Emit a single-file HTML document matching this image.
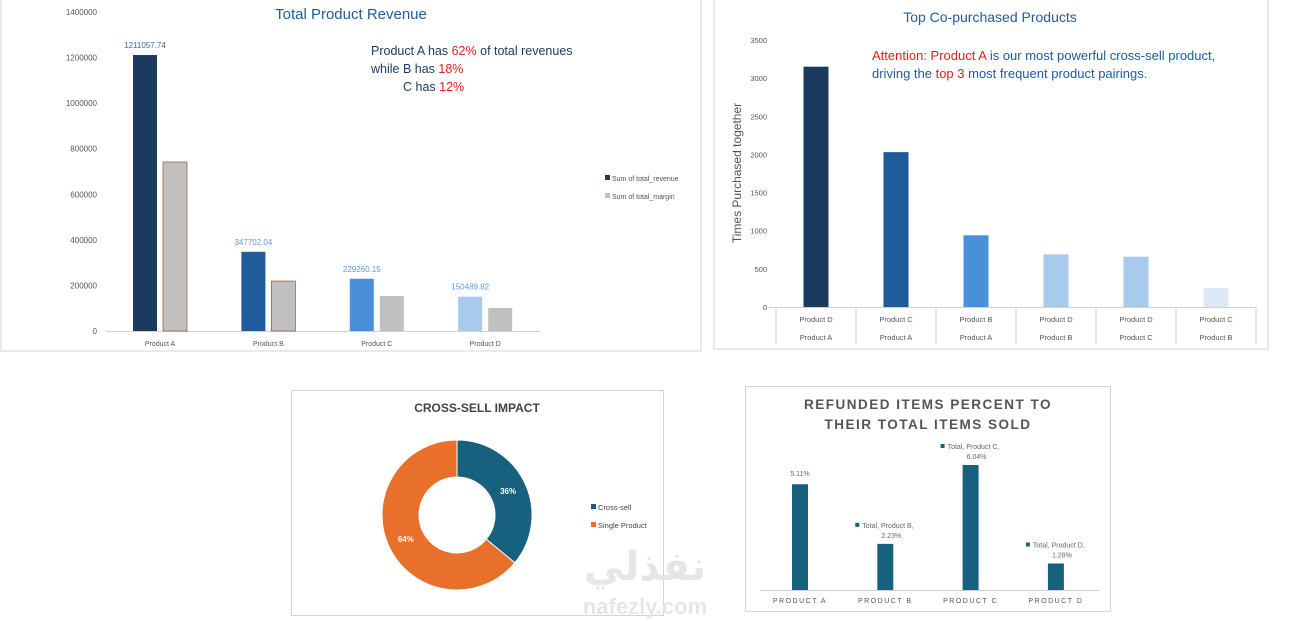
<!DOCTYPE html>
<html><head><meta charset="utf-8"><style>
body{margin:0;width:1294px;height:622px;background:#fff;overflow:hidden;font-family:"Liberation Sans",sans-serif}
svg{position:absolute;left:0;top:0}
</style></head><body>
<svg width="1294" height="622" id="s">
<rect x="1" y="-1" width="700" height="352" fill="none" stroke="#d4d4d4"/>
<rect x="714" y="-1" width="554" height="350" fill="none" stroke="#d4d4d4"/>
<rect x="291.5" y="390.5" width="372" height="225" fill="none" stroke="#d4d4d4"/>
<rect x="745.5" y="386.5" width="365" height="225" fill="none" stroke="#d4d4d4"/>
<text x="351" y="19" text-anchor="middle" font-size="15" fill="#1f5c99">Total Product Revenue</text>
<text x="371" y="55" font-size="12.5" fill="#1b3a5f">Product A has <tspan fill="#e02020">62%</tspan> of total revenues</text>
<text x="371" y="73" font-size="12.5" fill="#1b3a5f">while B has <tspan fill="#e02020">18%</tspan></text>
<text x="403" y="91" font-size="12.5" fill="#1b3a5f">C has <tspan fill="#e02020">12%</tspan></text>
<rect x="605" y="175" width="5" height="5" fill="#1b3a5f"/>
<text x="612" y="181" font-size="7" fill="#555">Sum of total_revenue</text>
<rect x="605" y="193" width="5" height="5" fill="#c0c0c0"/>
<text x="612" y="199" font-size="7" fill="#555">Sum of total_margin</text>
<text x="990" y="22" text-anchor="middle" font-size="14" fill="#1f5c99">Top Co-purchased Products</text>
<text x="872" y="60" font-size="13" fill="#1f5c99"><tspan fill="#e02020">Attention: Product A</tspan> is our most powerful cross-sell product,</text>
<text x="872" y="78" font-size="13" fill="#1f5c99">driving the <tspan fill="#e02020">top 3</tspan> most frequent product pairings.</text>
<text transform="translate(741,173) rotate(-90)" text-anchor="middle" font-size="12" fill="#555">Times Purchased together</text>
<text x="477" y="412" text-anchor="middle" font-size="12" font-weight="bold" fill="#444">CROSS-SELL IMPACT</text>
<rect x="591" y="504" width="5" height="5" fill="#17607e"/>
<text x="598" y="510" font-size="7.5" fill="#444">Cross-sell</text>
<rect x="591" y="522" width="5" height="5" fill="#e8702a"/>
<text x="598" y="528" font-size="7.5" fill="#444">Single Product</text>
<text x="928" y="409" text-anchor="middle" font-size="13.5" font-weight="bold" letter-spacing="1.5" fill="#555">REFUNDED ITEMS PERCENT TO</text>
<text x="928" y="429" text-anchor="middle" font-size="13.5" font-weight="bold" letter-spacing="1.5" fill="#555">THEIR TOTAL ITEMS SOLD</text>
<text x="645" y="580" text-anchor="middle" font-size="40" font-weight="bold" fill="#e6e6e6" font-family="DejaVu Sans,sans-serif">نفذلي</text>
<text x="645" y="614" text-anchor="middle" font-size="22" font-weight="bold" fill="#e6e6e6">nafezly.com</text>
</svg>
<script>
const NS="http://www.w3.org/2000/svg",s=document.getElementById('s');
function mk(t,a,txt){const e=document.createElementNS(NS,t);for(const k in a)e.setAttribute(k,a[k]);if(txt!=null)e.textContent=txt;s.appendChild(e);return e;}
// Chart 1
const revCats=["Product A","Product B","Product C","Product D"];
const revenue=[1211057.74,347702.04,229260.15,150489.82];
const margin=[741700,219000,153600,101000];
const revTicks=[0,200000,400000,600000,800000,1000000,1200000,1400000];
const revColors=["#1b3a5f","#1f5c99","#4a90d9","#a8caec"];
const y1=v=>331-v/1400000*319, x1=i=>160+108.4*i;
revTicks.forEach(t=>{const e=mk('text',{x:97,y:y1(t)+3,'text-anchor':'end','font-size':8,fill:'#555'},t);

});
let ax=mk('line',{x1:106,x2:540,y1:331.5,y2:331.5,stroke:'#d0d0d0'});


revCats.forEach((c,i)=>{const cx=x1(i);
let r=mk('rect',{x:cx-27,y:y1(revenue[i]),width:24,height:331-y1(revenue[i]),fill:revColors[i]});


let m=mk('rect',{x:cx+3,y:y1(margin[i]),width:24,height:331-y1(margin[i]),fill:'#c0c0c0',stroke:i<2?'#a0603a':'none','stroke-width':0.8});


let l=mk('text',{x:cx-15,y:y1(revenue[i])-7,'text-anchor':'middle','font-size':8,fill:i===0?'#3a6a9a':'#5a9ad8'},revenue[i].toFixed(2));


let cl=mk('text',{x:cx,y:346,'text-anchor':'middle','font-size':7,fill:'#555'},c);

});
// Chart 2
const pairTop=["Product D","Product C","Product B","Product D","Product D","Product C"];
const pairBottom=["Product A","Product A","Product A","Product B","Product C","Product B"];
const pairCounts=[3150,2030,940,690,660,250];
const pairTicks=[0,500,1000,1500,2000,2500,3000,3500];
const pairColors=["#1b3a5f","#1f5c99","#4a90d9","#a8caec","#a8caec","#dce8f5"];
const y2=v=>307-v/3500*267, x2=i=>776+80*i+40;
pairTicks.forEach(t=>{const e=mk('text',{x:767,y:y2(t)+3,'text-anchor':'end','font-size':7.5,fill:'#555'},t);

});
let ax2=mk('line',{x1:769,x2:1256,y1:307.5,y2:307.5,stroke:'#d0d0d0'});


for(let i=0;i<=6;i++){let v=mk('line',{x1:776+80*i,x2:776+80*i,y1:307,y2:344,stroke:'#d0d0d0'});

}
pairCounts.forEach((v,i)=>{const cx=x2(i);
let r=mk('rect',{x:cx-12.5,y:y2(v),width:25,height:307-y2(v),fill:pairColors[i]});


let a=mk('text',{x:cx,y:322,'text-anchor':'middle','font-size':7.5,fill:'#555'},pairTop[i]);


let b=mk('text',{x:cx,y:340,'text-anchor':'middle','font-size':7.5,fill:'#555'},pairBottom[i]);

});
// Chart 3 donut
const sliceNames=["Cross-sell","Single Product"];
const sliceValues=[36,64];
const sliceColors=["#17607e","#e8702a"];
const cx3=457,cy3=515,R=75,r0=38;let ang=-Math.PI/2;const tot=sliceValues.reduce((a,b)=>a+b);
sliceValues.forEach((v,i)=>{const a2=ang+v/tot*2*Math.PI,lg=a2-ang>Math.PI?1:0;
const p=(r,a)=>[cx3+r*Math.cos(a),cy3+r*Math.sin(a)];
const [a1x,a1y]=p(R,ang),[b1x,b1y]=p(R,a2),[a0x,a0y]=p(r0,a2),[b0x,b0y]=p(r0,ang);
let e=mk('path',{d:`M${a1x},${a1y}A${R},${R} 0 ${lg} 1 ${b1x},${b1y}L${a0x},${a0y}A${r0},${r0} 0 ${lg} 0 ${b0x},${b0y}Z`,fill:sliceColors[i],stroke:'#fff','stroke-width':1});


const m=(ang+a2)/2,[lx,ly]=p((R+r0)/2,m);
let t=mk('text',{x:lx,y:ly+3,'text-anchor':'middle','font-size':8,'font-weight':'bold',fill:'#fff'},v+'%');


ang=a2;});
// Chart 4
const refCats=["PRODUCT A","PRODUCT B","PRODUCT C","PRODUCT D"];
const refPct=[5.11,2.23,6.04,1.28];
const y4=v=>590-v/6.04*125, x4=i=>800+85.3*i;
let ax4=mk('line',{x1:760,x2:1100,y1:590.5,y2:590.5,stroke:'#d0d0d0'});


refPct.forEach((v,i)=>{const cx=x4(i);
let r=mk('rect',{x:cx-8,y:y4(v),width:16,height:590-y4(v),fill:'#17607e'});


let c=mk('text',{x:cx,y:603,'text-anchor':'middle','font-size':7,'letter-spacing':1.5,fill:'#555'},refCats[i]);


const lbl=v.toFixed(2)+'%';
if(i===0){let t=mk('text',{x:cx,y:y4(v)-8,'text-anchor':'middle','font-size':7,fill:'#666'},lbl);

}
else{let sq=mk('rect',{x:cx-30,y:y4(v)-21,width:4,height:4,fill:'#17607e'});


let t1=mk('text',{x:cx-23,y:y4(v)-16,'font-size':7,fill:'#666'},'Total, '+refCats[i].replace('PRODUCT','Product')+',');


let t2=mk('text',{x:cx+6,y:y4(v)-6,'text-anchor':'middle','font-size':7,fill:'#666'},lbl);

}});
</script>
</body></html>
